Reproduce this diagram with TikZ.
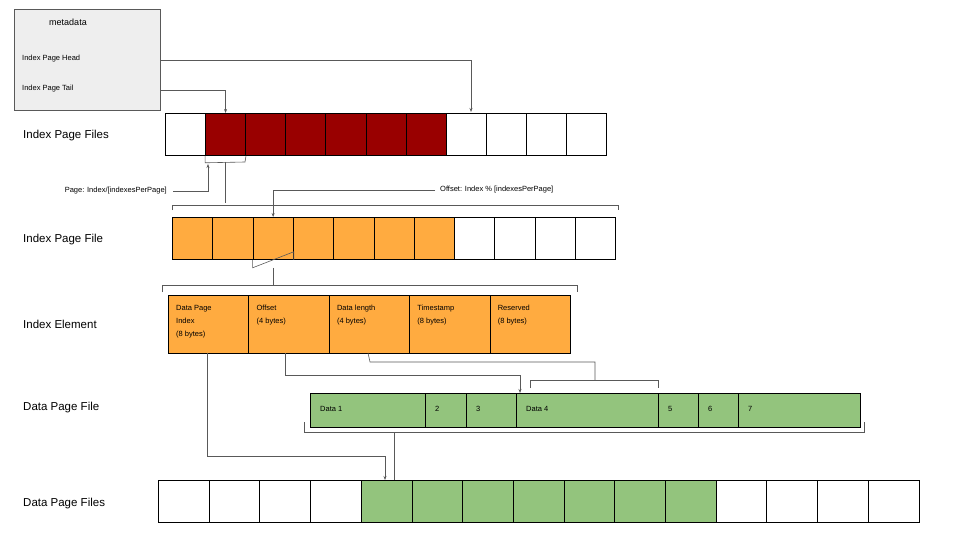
\documentclass[tikz,border=0pt]{standalone}
\usepackage{fontspec}
\setmainfont{Liberation Sans}
\usetikzlibrary{arrows.meta}
\definecolor{dred}{HTML}{990000}
\definecolor{org}{HTML}{FFAB40}
\definecolor{grn}{HTML}{93C47D}
\definecolor{meta}{HTML}{EEEEEE}
\definecolor{ln}{HTML}{595959}
\begin{document}
\begin{tikzpicture}[x=1pt,y=-1pt,
  cell/.style={draw=black,line width=0.8pt,minimum height=#1,inner sep=0,anchor=north west},
  lbl/.style={anchor=west,font=\fontsize{11.5}{13}\selectfont,inner sep=0},
  sm/.style={font=\fontsize{7.5}{9}\selectfont,inner sep=0},
  con/.style={draw=ln,line width=0.6pt},
  arr/.style={con,-{Stealth[length=4pt,width=3pt]}},
  br/.style={draw=ln,line width=0.6pt}]
\useasboundingbox (0,0) rectangle (960,540);
% metadata
\node[draw=ln,fill=meta,minimum width=146,minimum height=101,inner sep=0,anchor=north west] (meta) at (14,9) {};
\node[sm,font=\fontsize{9}{10}\selectfont] (mt) at (68,22) {metadata};
\node[sm,anchor=west] (head) at (22,59) {Index Page Head};
\node[sm,anchor=west] (tail) at (22,89) {Index Page Tail};
\coordinate (mh) at (160,60); \coordinate (mtl) at (160,90);
% labels
\node[lbl] (l1) at (23,136) {Index Page Files};
\node[lbl] (l2) at (23,240) {Index Page File};
\node[lbl] (l3) at (23,324) {Index Element};
\node[lbl] (l4) at (23,408) {Data Page File};
\node[lbl] (l5) at (23,504) {Data Page Files};
% Index Page Files
\foreach \i in {0,...,10}{
  \pgfmathsetmacro\xx{165+\i*40.1}
  \ifnum\i>0 \ifnum\i<7 \def\fc{dred}\else\def\fc{white}\fi\else\def\fc{white}\fi
  \node[cell=42,minimum width=40.1,fill=\fc] (a\i) at (\xx,113) {};}
\draw[arr] (mh) -| (471,112);
\draw[arr] (mtl) -| (a1.north);
\draw[br] (a1.south west) -- ++(0,7) coordinate (b1l) -- (245,162) -- (a1.south east);
\node[sm,anchor=east] (pg) at (167,191) {Page: Index/[indexesPerPage]};
\draw[arr] (173,191) -| (208,164);
\draw[con] (225,162) -- (225,203);
\draw[br] (172,210) -- (172,205) -- (618,205) -- (618,210);
\node[sm,anchor=west] (off) at (440,190) {Offset: Index \% [indexesPerPage]};
% Index Page File
\foreach \i in {0,...,10}{
  \pgfmathsetmacro\xx{172+\i*40.3}
  \ifnum\i<7 \def\fc{org}\else\def\fc{white}\fi
  \node[cell=42,minimum width=40.3,fill=\fc] (c\i) at (\xx,217) {};}
\draw[arr] (435,190) -| (c2.north);
\draw[br] (c2.south west) -- ++(0,8) -- ([yshift=8]c2.south east) -- (c2.south east);
\draw[con] (c2.south) ++(0,8) -- (c2.south |- 0,285);
\draw[br] (162,292) -- (162,285) -- (577,285) -- (577,292);
% Index Element
\foreach \i/\t in {0/{Data Page\\Index\\(8 bytes)},1/{Offset\\(4 bytes)},2/{Data length\\(4 bytes)},3/{Timestamp\\(8 bytes)},4/{Reserved\\(8 bytes)}}{
  \pgfmathsetmacro\xx{168+\i*80.4}
  \node[cell=58,minimum width=80.4,fill=org] (e\i) at (\xx,295) {};
  \node[sm,anchor=north west,align=left,font=\fontsize{7.5}{13}\selectfont] (et\i) at (\xx+8,305) {\t};}
% Data Page File
\foreach \n/\a/\b/\t in {1/310/425/Data 1,2/425/466/2,3/466/516/3,4/516/658/Data 4,5/658/698/5,6/698/738/6,7/738/860/7}{
  \node[cell=34,minimum width=\b-\a,fill=grn] (d\n) at (\a,393) {};
  \node[sm,anchor=west] (dt\n) at (\a+10,409) {\t};}
\draw[br] (304,422) -- (304,432) -- (864,432) -- (864,422);
% Data Page Files
\foreach \i in {0,...,14}{
  \pgfmathsetmacro\xx{158+\i*50.7}
  \ifnum\i>3 \ifnum\i<11 \def\fc{grn}\else\def\fc{white}\fi\else\def\fc{white}\fi
  \node[cell=42,minimum width=50.7,fill=\fc] (f\i) at (\xx,480) {};}
% connectors
\draw[arr] (207,353) -- (207,456) -| (385,480);
\draw[con] (394,432) -- (394,480);
\draw[arr] (285,353) -- (285,375) -| (520,393);
\draw[con] (368,353) -- (370,362) -| (595,380);
\draw[br] (530,388) -- (530,380) -- (658,380) -- (658,388);
\end{tikzpicture}
\end{document}
